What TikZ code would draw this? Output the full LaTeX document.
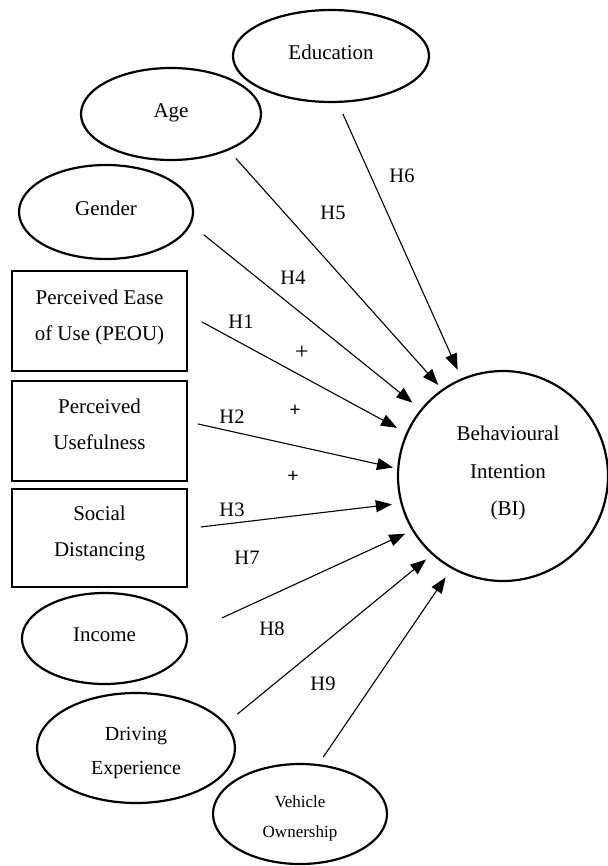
\documentclass[tikz,border=0pt]{standalone}
\usepackage{fontspec}
\setmainfont{Liberation Serif}
\usetikzlibrary{shapes.geometric,arrows.meta}
\newcommand{\tl}[3]{\raisebox{#2}[\height][\depth]{\makebox[0pt]{\kern#1\begin{tabular}{@{}c@{}}#3\end{tabular}}}}
\begin{document}
\begin{tikzpicture}[x=0.5pt,y=-0.5pt,
  every node/.style={inner sep=0pt, outer sep=0pt},
  oval/.style={ellipse, draw, line width=1.1pt},
  boxnode/.style={rectangle, draw, line width=1.2pt, minimum width=87.5pt},
  lbl/.style={font=\fontsize{10.25pt}{12pt}\selectfont},
  arr/.style={line width=0.55pt, -{Triangle[length=8pt,width=6pt]}},
  mainfont/.style={font=\fontsize{10.5pt}{18pt}\selectfont}
]
\useasboundingbox (0,0) rectangle (608,866);

% constructs
\node[oval, mainfont, minimum width=98pt, minimum height=46pt] (edu) at (331,56) {\tl{0pt}{2pt}{Education}};
\node[oval, mainfont, minimum width=90pt, minimum height=46pt] (age) at (171,114) {\tl{0pt}{2pt}{Age}};
\node[oval, mainfont, minimum width=87pt, minimum height=47pt] (gender) at (106,212) {\tl{0pt}{2pt}{Gender}};
\node[boxnode, mainfont, minimum height=50pt] (peou) at (99.5,321) {\tl{0pt}{3pt}{Perceived Ease\\of Use (PEOU)}};
\node[boxnode, mainfont, minimum height=50pt] (pu) at (99.5,431) {\tl{0pt}{3.5pt}{Perceived\\Usefulness}};
\node[boxnode, mainfont, minimum height=49pt] (sd) at (99.5,538) {\tl{0pt}{3.25pt}{Social\\Distancing}};
\node[oval, mainfont, minimum width=82.5pt, minimum height=45.5pt] (income) at (104.5,638.5) {\tl{0pt}{2pt}{Income}};
\node[oval, font=\fontsize{10pt}{17pt}\selectfont, minimum width=99pt, minimum height=55pt] (driving) at (136,748) {\tl{0pt}{-1.5pt}{Driving\\Experience}};
\node[oval, font=\fontsize{8.5pt}{15pt}\selectfont, minimum width=87pt, minimum height=50pt] (vehicle) at (300,814) {\tl{0pt}{-1pt}{Vehicle\\Ownership}};
\node[circle, draw, line width=1.1pt, minimum size=105pt, font=\fontsize{10.5pt}{18.75pt}\selectfont] (bi) at (503,476) {\tl{5pt}{2.75pt}{Behavioural\\Intention\\(BI)}};

% connectors
\draw[arr, shorten <=6.6pt, shorten >=5.3pt] (edu.278.2) -- (bi.113.4);
\draw[arr, shorten <=5.9pt, shorten >=3.4pt] (age.328.9) -- (bi.125.1);
\draw[arr, shorten <=8.7pt, shorten >=5.8pt] (gender.352.5) -- (bi.141.3);
\draw[arr, shorten <=8.5pt, shorten >=5.7pt] ([yshift=3.6pt]peou.east) -- (bi.156.1);
\draw[arr, shorten <=5.6pt, shorten >=2.7pt] ([yshift=4.75pt]pu.east) -- (bi.176.3);
\draw[arr, shorten <=7pt, shorten >=4.9pt] ([yshift=4.7pt]sd.east) -- (bi.195.4);
\draw[arr, shorten <=19.5pt, shorten >=4.3pt] (income.3.9) -- (bi.211.9);
\draw[arr, shorten <=7.8pt, shorten >=4.2pt] (driving.15.2) -- (bi.228.6);
\draw[arr, shorten <=4.9pt, shorten >=5.7pt] (vehicle.70.8) -- (bi.241.9);

% hypothesis labels
\node[lbl] (h1) at (241,322) {H1};
\node[lbl] (h2) at (232,417) {H2};
\node[lbl] (h3) at (232,510) {H3};
\node[lbl] (h4) at (293,278) {H4};
\node[lbl] (h5) at (333,213) {H5};
\node[lbl] (h6) at (402,176) {H6};
\node[lbl] (h7) at (247,558) {H7};
\node[lbl] (h8) at (272,629) {H8};
\node[lbl] (h9) at (323,684) {H9};
\node[font=\fontsize{12pt}{14pt}\selectfont] (plus1) at (302,353) {+};
\node[font=\fontsize{10pt}{12pt}\selectfont\bfseries] (plus2) at (295,411) {+};
\node[font=\fontsize{10pt}{12pt}\selectfont\bfseries] (plus3) at (293,477) {+};
\end{tikzpicture}
\end{document}
